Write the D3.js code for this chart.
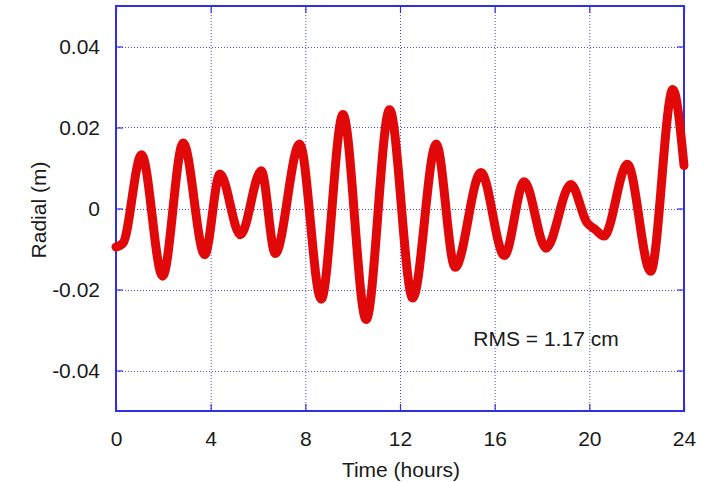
<!DOCTYPE html>
<html><head><meta charset="utf-8">
<script src="https://cdn.jsdelivr.net/npm/d3@7"></script>
<style>body{margin:0;background:#fff}svg{display:block}text{font-family:"Liberation Sans",Arial,sans-serif;fill:#1a1a1a}</style>
</head><body>
<script>
const hours = [0, 0.3, 1.08, 1.97, 2.84, 3.75, 4.39, 5.26, 6.14, 6.73, 7.76, 8.67, 9.59, 10.57, 11.56, 12.54, 13.53, 14.33, 15.42, 16.41, 17.25, 18.17, 19.22, 19.9, 20.25, 20.62, 21.61, 22.59, 23.53, 24];
const radial = [-0.0095, -0.0085, 0.0133, -0.0167, 0.0162, -0.0114, 0.0085, -0.0065, 0.0093, -0.0111, 0.0159, -0.0224, 0.0232, -0.0274, 0.0244, -0.0221, 0.0159, -0.0145, 0.0089, -0.0116, 0.0066, -0.0098, 0.0059, -0.0035, -0.0052, -0.0068, 0.0109, -0.0155, 0.0294, 0.0106];
const xTicks = [0, 4, 8, 12, 16, 20, 24];
const yTicks = [-0.04, -0.02, 0, 0.02, 0.04];
const yTickLabels = ["-0.04", "-0.02", "0", "0.02", "0.04"];
const annotation = "RMS = 1.17 cm";

const W = 715, H = 482;
const L = 116, R = 684, T = 6, B = 411;
const x = d3.scaleLinear().domain([0, 24]).range([L, R]);
const y = d3.scaleLinear().domain([-0.05, 0.05]).range([B, T]);
const blue = "#3030e0";

const svg = d3.select("body").append("svg").attr("width", W).attr("height", H);

// grid
const g = svg.append("g");
g.selectAll(".gx").data(xTicks.filter(t => t > 0 && t < 24)).join("line")
  .attr("x1", d => x(d) + 0.5).attr("x2", d => x(d) + 0.5).attr("y1", T).attr("y2", B)
  .attr("stroke", blue).attr("stroke-width", 1).attr("stroke-dasharray", "1,2").attr("opacity", 0.85);
g.selectAll(".gy").data(yTicks).join("line")
  .attr("y1", d => Math.round(y(d)) + 0.5).attr("y2", d => Math.round(y(d)) + 0.5).attr("x1", L).attr("x2", R)
  .attr("stroke", blue).attr("stroke-width", 1).attr("stroke-dasharray", "1,2").attr("opacity", 0.85);

// axes (ticks inward on all four sides)
const tickLen = 7;
const axB = svg.append("g").attr("transform", `translate(0,${B})`)
  .call(d3.axisBottom(x).tickValues(xTicks).tickSizeInner(-tickLen).tickSizeOuter(0).tickPadding(tickLen + 13));
const axT = svg.append("g").attr("transform", `translate(0,${T})`)
  .call(d3.axisTop(x).tickValues(xTicks).tickSizeInner(-tickLen).tickSizeOuter(0).tickFormat(""));
const axL = svg.append("g").attr("transform", `translate(${L},0)`)
  .call(d3.axisLeft(y).tickValues(yTicks).tickSizeInner(-tickLen).tickSizeOuter(0).tickPadding(tickLen + 9)
  .tickFormat((d, i) => yTickLabels[i]));
const axR = svg.append("g").attr("transform", `translate(${R},0)`)
  .call(d3.axisRight(y).tickValues(yTicks).tickSizeInner(-tickLen).tickSizeOuter(0).tickFormat(""));
[axB, axT, axL, axR].forEach(a => {
  a.select(".domain").remove();
  a.selectAll("line").attr("stroke", blue).attr("stroke-width", 1.2);
  a.selectAll("text").attr("font-size", 21).attr("font-family", "Liberation Sans, Arial, sans-serif").attr("fill", "#1a1a1a");
});
axB.selectAll("text").attr("dy", "0.71em");

// frame
svg.append("rect").attr("x", L).attr("y", T).attr("width", R - L).attr("height", B - T)
  .attr("fill", "none").attr("stroke", blue).attr("stroke-width", 2);

// data line
const line = d3.line().x((d, i) => x(hours[i])).y(d => y(d)).curve(d3.curveMonotoneX);
svg.append("path").datum(radial).attr("d", line)
  .attr("fill", "none").attr("stroke", "#e00808").attr("stroke-width", 9)
  .attr("stroke-linecap", "round").attr("stroke-linejoin", "round");

// labels
svg.append("text").attr("x", 401).attr("y", 477).attr("text-anchor", "middle").attr("font-size", 21).text("Time (hours)");
svg.append("text").attr("transform", "translate(46,210) rotate(-90)").attr("text-anchor", "middle").attr("font-size", 21).text("Radial (m)");
svg.append("text").attr("x", 546).attr("y", 346).attr("text-anchor", "middle").attr("font-size", 21).text(annotation);
</script>
</body></html>
